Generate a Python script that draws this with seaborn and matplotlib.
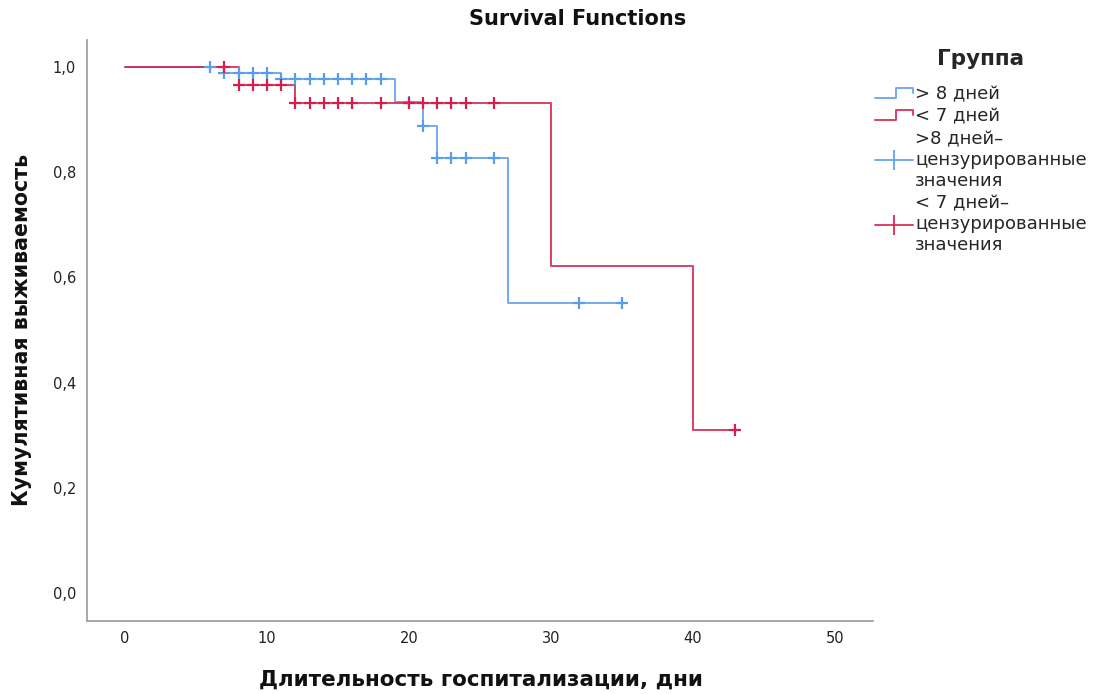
import numpy as np
import pandas as pd
import matplotlib
matplotlib.use("Agg")
import matplotlib.pyplot as plt
from matplotlib.lines import Line2D
from matplotlib.legend_handler import HandlerBase
from matplotlib.ticker import FuncFormatter
import seaborn as sns

# Kaplan-Meier step functions (event times and cumulative survival)
gt8_times = [0, 7, 11, 19, 21, 22, 27, 35]
gt8_surv = [1.0, 0.989, 0.977, 0.933, 0.887, 0.827, 0.552, 0.552]
lt7_times = [0, 8, 12, 30, 40, 43]
lt7_surv = [1.0, 0.966, 0.931, 0.621, 0.310, 0.310]

# Censored observations (days)
gt8_censored = [6, 7, 8, 9, 10, 11, 12, 13, 14, 15, 16, 17, 18, 20, 21, 22, 23, 24, 26, 32, 35]
lt7_censored = [7, 8, 9, 10, 11, 12, 13, 14, 15, 16, 18, 20, 21, 22, 23, 24, 26, 43]

group_labels = ["> 8 дней", "< 7 дней"]
censor_labels = [">8 дней–\nцензурированные\nзначения", "< 7 дней–\nцензурированные\nзначения"]
x_ticks = [0, 10, 20, 30, 40, 50]
y_ticks = [0.0, 0.2, 0.4, 0.6, 0.8, 1.0]

BLUE = "#5b9ded"
RED = "#d81e4c"

sns.set_theme(style="white")
plt.rcParams["font.family"] = ["DejaVu Sans"]


def surv_at(times, surv, t):
    idx = np.searchsorted(times, t, side="right") - 1
    return np.asarray(surv)[idx]


fig = plt.figure(figsize=(10.96, 6.94), dpi=100)
ax = fig.add_axes([87 / 1096, 1 - 621 / 694, (873 - 87) / 1096, (621 - 40) / 694])

for times, surv, cens, color in [
    (gt8_times, gt8_surv, gt8_censored, BLUE),
    (lt7_times, lt7_surv, lt7_censored, RED),
]:
    df = pd.DataFrame({"t": times, "s": surv})
    sns.lineplot(data=df, x="t", y="s", drawstyle="steps-post", color=color,
                 linewidth=1.4, estimator=None, ax=ax, alpha=0.85)
    cdf = pd.DataFrame({"t": cens, "s": surv_at(times, surv, cens)})
    sns.scatterplot(data=cdf, x="t", y="s", marker="+", s=64, color=color,
                    linewidth=1.6, ax=ax, zorder=3)

ax.set_xlim(-2.68, 52.7)
ax.set_ylim(-0.053, 1.051)
ax.set_xticks(x_ticks)
ax.set_yticks(y_ticks)
ax.xaxis.set_major_formatter(FuncFormatter(lambda v, p: f"{v:.0f}"))
ax.yaxis.set_major_formatter(FuncFormatter(lambda v, p: f"{v:.1f}".replace(".", ",")))
ax.tick_params(axis="both", length=0, labelsize=10.5, colors="#222222", pad=8)
ax.tick_params(axis="x", pad=7)
for side in ["top", "right"]:
    ax.spines[side].set_visible(False)
for side in ["left", "bottom"]:
    ax.spines[side].set_color("#9a9a9a")
    ax.spines[side].set_linewidth(1.2)
ax.grid(False)
ax.set_xlabel("")
ax.set_ylabel("")

fig.text(578 / 1096, 1 - 19 / 694, "Survival Functions", ha="center", va="center",
         fontsize=15, fontweight="bold", color="#111111")
fig.text(481 / 1096, 1 - 680 / 694, "Длительность госпитализации, дни", ha="center",
         va="center", fontsize=15.5, fontweight="bold", color="#111111")
fig.text(22 / 1096, 1 - 330 / 694, "Кумулятивная выживаемость", ha="center",
         va="center", rotation=90, fontsize=14.8, fontweight="bold", color="#111111")


class StepHandler(HandlerBase):
    def create_artists(self, legend, orig_handle, xdescent, ydescent, width, height,
                       fontsize, trans):
        x0, h = -xdescent, height
        xs = [x0, x0 + 0.55 * width, x0 + 0.55 * width, x0 + width, x0 + width]
        ys = [-ydescent + 0.1 * h, -ydescent + 0.1 * h, -ydescent + 0.9 * h,
              -ydescent + 0.9 * h, -ydescent + 0.5 * h]
        line = Line2D(xs, ys, color=orig_handle.get_color(), linewidth=1.4, alpha=0.85)
        line.set_transform(trans)
        return [line]


step_handles = [Line2D([], [], color=BLUE), Line2D([], [], color=RED)]
cross_handles = [
    Line2D([], [], color=BLUE, linewidth=1.4, marker="|", markersize=14, mew=1.5, alpha=0.85),
    Line2D([], [], color=RED, linewidth=1.4, marker="|", markersize=14, mew=1.5, alpha=0.85),
]
leg = fig.legend(step_handles + cross_handles, group_labels + censor_labels,
                 loc="upper left", bbox_to_anchor=(875 / 1096, 1 - 49 / 694),
                 frameon=False, fontsize=13, title="Группа",
                 title_fontproperties={"weight": "bold", "size": 15.5},
                 handlelength=2.1, handletextpad=0.12, labelspacing=0.25,
                 borderpad=0, borderaxespad=0,
                 handler_map={step_handles[0]: StepHandler(), step_handles[1]: StepHandler()})
leg._legend_box.align = "center"
# extra room between the legend title and its entries
leg._legend_box.sep = 11.5

fig.savefig("out.png", dpi=100, facecolor="white")
